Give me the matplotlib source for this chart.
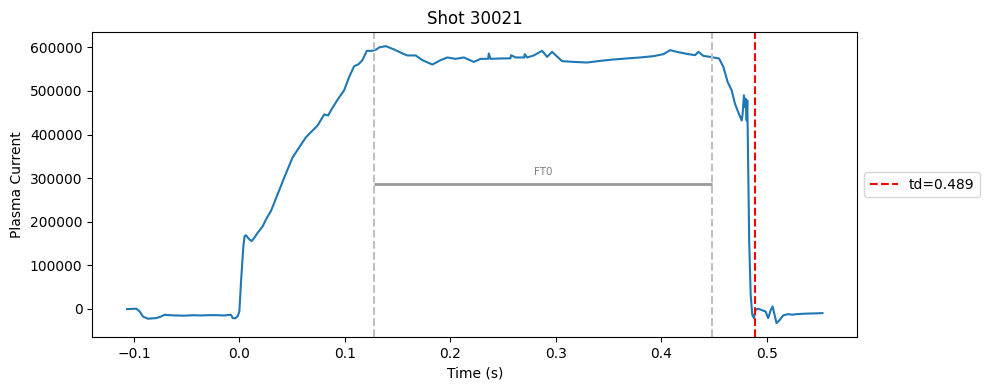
import matplotlib
matplotlib.use("Agg")
import matplotlib.pyplot as plt

shot = 30021
td = 0.489
ft_start, ft_end = 0.128, 0.448
ft_level = 287000

# plasma current trace
time = [
    -0.1065, -0.0977, -0.0946, -0.0914, -0.0867, -0.0788, -0.0741, -0.0710,
    -0.0620, -0.0520, -0.0440, -0.0362, -0.0280, -0.0205, -0.0140, -0.0079,
    -0.0063, -0.0038, -0.0015, 0.0000, 0.0016, 0.0038, 0.0050, 0.0063,
    0.0095, 0.0117, 0.0142, 0.0174, 0.0221, 0.0253, 0.0300, 0.0331,
    0.0363, 0.0426, 0.0505, 0.0568, 0.0631, 0.0678, 0.0742, 0.0804,
    0.0842, 0.0868, 0.0931, 0.0993, 0.1041, 0.1088, 0.1130, 0.1167,
    0.1208, 0.1262, 0.1300, 0.1325, 0.1388, 0.1466, 0.1546, 0.1593,
    0.1672, 0.1735, 0.1830, 0.1908, 0.1972, 0.2050, 0.2129, 0.2223,
    0.2287, 0.2360, 0.2365, 0.2381, 0.2476, 0.2570, 0.2577, 0.2618,
    0.2700, 0.2706, 0.2728, 0.2791, 0.2870, 0.2918, 0.2965, 0.3060,
    0.3169, 0.3296, 0.3422, 0.3548, 0.3675, 0.3800, 0.3926, 0.4021,
    0.4084, 0.4148, 0.4257, 0.4321, 0.4352, 0.4399, 0.4463, 0.4548,
    0.4589, 0.4630, 0.4668, 0.4699, 0.4730, 0.4763, 0.4772, 0.4784,
    0.4794, 0.4800, 0.4810, 0.4816, 0.4825, 0.4834, 0.4848, 0.4863,
    0.4879, 0.4895, 0.4920, 0.4967, 0.4989, 0.5014, 0.5040, 0.5056,
    0.5078, 0.5093, 0.5125, 0.5156, 0.5203, 0.5241, 0.5283, 0.5361,
    0.5456, 0.5529,
]
current = [
    -1000, 0, -6000, -18000, -23000, -21600, -17800, -14000,
    -15500, -16000, -15000, -15500, -14800, -15000, -15500, -14000,
    -21600, -22000, -17000, -6000, 63000, 143800, 166900, 168500,
    159000, 155300, 163000, 174500, 189000, 205400, 224600, 243700,
    263000, 301400, 347600, 370700, 393700, 405300, 420700, 446100,
    443800, 455400, 480000, 501500, 532200, 556900, 561500, 570800,
    592200, 592200, 595500, 600000, 603000, 595500, 586200, 581600,
    581600, 570800, 560800, 570800, 577000, 573800, 577000, 566800,
    573800, 574000, 586200, 573800, 574700, 575000, 582300, 577000,
    577000, 584600, 577000, 581600, 592200, 578400, 589900, 568500,
    566800, 565400, 569200, 572400, 574700, 577000, 580000, 584600,
    593800, 589900, 584600, 582300, 589900, 580700, 578400, 574700,
    555300, 520700, 501500, 470800, 451400, 432300, 447700, 490000,
    463000, 482400, 432300, 478400, 309300, 155300, 32300, -13800,
    -21700, -2300, 0, -4600, -6200, -21700, -2300, 5300,
    -17800, -33200, -25400, -15500, -12500, -13800, -12500, -11500,
    -10800, -10200,
]

fig, ax = plt.subplots(figsize=(9.89, 3.9), dpi=100)
fig.subplots_adjust(left=0.0933, right=0.8668, top=0.9172, bottom=0.1359)

ax.plot(time, current, color="tab:blue", lw=1.5)

ax.axvline(ft_start, color="silver", ls="--", lw=1.5)
ax.axvline(ft_end, color="silver", ls="--", lw=1.5)
ax.hlines(ft_level, ft_start, ft_end, color="#999999", lw=2)
ax.text((ft_start + ft_end) / 2, ft_level * 1.05, "FT0", color="gray",
        fontsize=7.5, ha="center", va="bottom")

ax.axvline(td, color="red", ls="--", lw=1.5, label=f"td={td}")

ax.set_title(f"Shot {shot}")
ax.set_xlabel("Time (s)")
ax.set_ylabel("Plasma Current")
ax.legend(loc="center left", bbox_to_anchor=(1, 0.5))

fig.savefig("out.png")
